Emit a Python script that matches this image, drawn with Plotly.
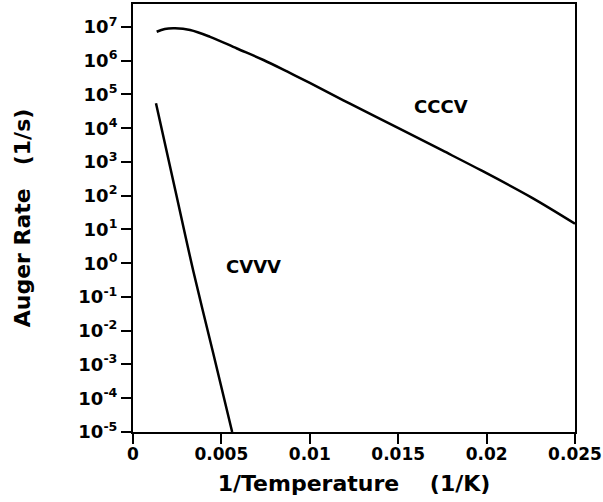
import plotly.graph_objects as go

# 1/T values (1/K) and Auger rates (1/s)
cccv_x = [0.00134, 0.0018, 0.00238, 0.00323, 0.00436, 0.00588, 0.00738, 0.00871, 0.0100, 0.0123, 0.0151, 0.0175, 0.0197, 0.0225, 0.0250]
cccv_y = [7.2e6, 8.7e6, 9.1e6, 8.1e6, 5.1e6, 2.3e6, 1.05e6, 4.8e5, 2.19e5, 5.25e4, 9.55e3, 2.19e3, 5.6e2, 9.1e1, 1.48e1]

cvvv_x = [0.0013, 0.0024, 0.00342, 0.0045, 0.00561]
cvvv_y = [5.5e4, 1.4e2, 0.56, 2.6e-3, 1.0e-5]

x_ticks = [0, 0.005, 0.01, 0.015, 0.02, 0.025]
x_ticktext = ["0", "0.005", "0.01", "0.015", "0.02", "0.025"]
y_exponents = [7, 6, 5, 4, 3, 2, 1, 0, -1, -2, -3, -4, -5]

FONT = "DejaVu Sans"

fig = go.Figure()
fig.add_trace(go.Scatter(x=cccv_x, y=cccv_y, mode="lines", line=dict(color="black", width=2.5, shape="spline"),
                         name="CCCV", showlegend=False))
fig.add_trace(go.Scatter(x=cvvv_x, y=cvvv_y, mode="lines", line=dict(color="black", width=2.5, shape="spline"),
                         name="CVVV", showlegend=False))

fig.add_annotation(x=0.0174, y=4.64, xref="x", yref="y", text="CCCV", showarrow=False,
                   font=dict(family=FONT, size=18, color="black", weight="bold"))
fig.add_annotation(x=0.0068, y=-0.11, xref="x", yref="y", text="CVVV", showarrow=False,
                   font=dict(family=FONT, size=18, color="black", weight="bold"))

fig.update_xaxes(range=[0, 0.025], tickvals=x_ticks, ticktext=x_ticktext,
                 showline=True, linecolor="black", linewidth=2, mirror=True,
                 ticks="outside", ticklen=10, tickwidth=2, tickcolor="black",
                 showgrid=False, zeroline=False, automargin=False,
                 ticklabelstandoff=-4,
                 tickfont=dict(family=FONT, size=17, color="black", weight="bold"),
                 title=dict(text="1/Temperature    (1/K)", standoff=12,
                            font=dict(family=FONT, size=22, color="black", weight="bold")))
fig.update_yaxes(type="log", range=[-5, 7.68],
                 tickvals=[10.0 ** e for e in y_exponents],
                 ticktext=["10<sup>%d</sup>" % e for e in y_exponents],
                 showline=True, linecolor="black", linewidth=2, mirror=True,
                 ticks="outside", ticklen=10, tickwidth=2, tickcolor="black",
                 showgrid=False, zeroline=False, automargin=False,
                 tickfont=dict(family=FONT, size=18, color="black", weight="bold"),
                 title=dict(text="Auger Rate   (1/s)", standoff=42,
                            font=dict(family=FONT, size=22, color="black", weight="bold")))

fig.update_layout(width=603, height=502, margin=dict(l=133, r=28, t=4, b=70, autoexpand=False),
                  plot_bgcolor="white", paper_bgcolor="white")

fig.write_html("out.html", config={"displayModeBar": False},
               post_script="document.body.style.margin='0px';")
